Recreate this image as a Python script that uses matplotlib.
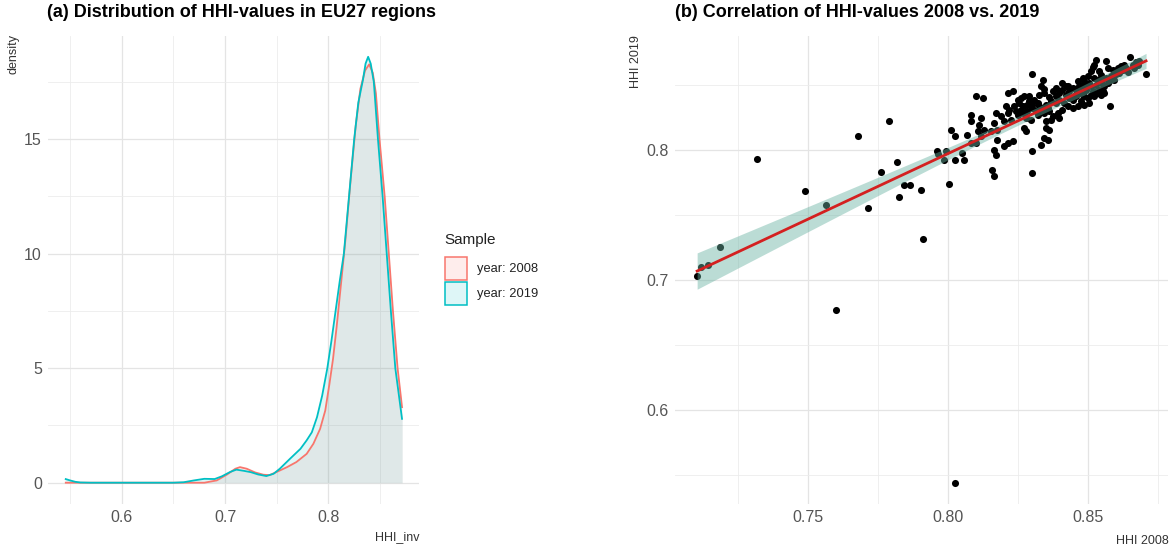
import numpy as np
import matplotlib
matplotlib.use("Agg")
import matplotlib.pyplot as plt
from matplotlib.patches import Rectangle
from matplotlib.colors import to_rgba

plt.rcParams['font.family'] = ['Liberation Sans', 'DejaVu Sans']

# ---------------- data ----------------
years = ['year: 2008', 'year: 2019']
year_colors = ['#F8766D', '#00BFC4']

dens_x_2008 = [0.545, 0.600, 0.650, 0.680, 0.692, 0.702, 0.710, 0.7145, 0.721, 0.729,
               0.737, 0.743, 0.750, 0.760, 0.769, 0.779, 0.7855, 0.792, 0.797, 0.801,
               0.8045, 0.808, 0.8125, 0.8165, 0.8215, 0.8265, 0.831, 0.8355, 0.8395, 0.843,
               0.846, 0.8495, 0.8545, 0.8585, 0.8625, 0.867, 0.8714]
dens_y_2008 = [0.0, 0.0, 0.0, 0.0, 0.1, 0.36, 0.61, 0.68, 0.61, 0.45,
               0.35, 0.33, 0.47, 0.68, 0.9, 1.26, 1.7, 2.35, 3.15, 4.3,
               5.4, 6.8, 8.8, 10.6, 13.2, 15.6, 17.2, 18.0, 18.27, 17.9,
               17.0, 15.0, 12.5, 10.0, 7.5, 5.0, 3.26]

dens_x_2019 = [0.545, 0.550, 0.555, 0.560, 0.570, 0.600, 0.650, 0.660, 0.670, 0.680,
               0.690, 0.697, 0.705, 0.711, 0.718, 0.725, 0.732, 0.740, 0.747, 0.753,
               0.763, 0.773, 0.779, 0.784, 0.789, 0.794, 0.799, 0.803, 0.807, 0.811,
               0.815, 0.820, 0.825, 0.829, 0.8335, 0.836, 0.8385, 0.841, 0.844, 0.848,
               0.8525, 0.8565, 0.8605, 0.8648, 0.8714]
dens_y_2019 = [0.17, 0.10, 0.04, 0.01, 0.0, 0.0, 0.0, 0.02, 0.10, 0.17,
               0.16, 0.28, 0.47, 0.57, 0.52, 0.46, 0.36, 0.29, 0.39, 0.61,
               1.05, 1.48, 1.85, 2.2, 2.86, 3.8, 5.0, 6.2, 7.5, 8.8,
               10.0, 12.5, 15.0, 16.6, 17.6, 18.3, 18.6, 18.3, 17.5, 15.0,
               12.5, 10.0, 7.5, 5.0, 2.75]

hhi_2008 = [
    0.7105, 0.7117, 0.7143, 0.7185, 0.7317, 0.7489, 0.7565, 0.7601, 0.7678, 0.7715,
    0.7762, 0.7788, 0.7819, 0.7825, 0.7843, 0.7864, 0.7902, 0.7912, 0.8023,
    0.7960, 0.7964, 0.7992, 0.7986, 0.8010, 0.8024, 0.8004, 0.8051, 0.8055, 0.8024,
    0.8067, 0.8081, 0.8101, 0.8126, 0.8081, 0.8083, 0.8117, 0.8105, 0.8117, 0.8099,
    0.8111, 0.8129,
    0.8301, 0.8337, 0.8331, 0.8343, 0.8408, 0.8426, 0.8462,
    0.8212, 0.8230, 0.8260, 0.8272, 0.8289, 0.8307, 0.8325, 0.8343, 0.8361,
    0.8206, 0.8218, 0.8236, 0.8254, 0.8266, 0.8283, 0.8301, 0.8319, 0.8331, 0.8349,
    0.8367, 0.8385, 0.8397, 0.8414, 0.8432, 0.8450, 0.8468,
    0.8170, 0.8188, 0.8212, 0.8224, 0.8248, 0.8266, 0.8277, 0.8295, 0.8319, 0.8343,
    0.8361, 0.8373, 0.8391, 0.8408, 0.8426, 0.8444, 0.8462,
    0.8164, 0.8200, 0.8349, 0.8367, 0.8397,
    0.8153, 0.8176, 0.8272, 0.8277, 0.8349, 0.8361,
    0.8176, 0.8212, 0.8230, 0.8343, 0.8355, 0.8331,
    0.8164, 0.8200, 0.8301, 0.8170, 0.8158, 0.8301, 0.8162,
    0.8527, 0.8521, 0.8516, 0.8563, 0.8647, 0.8706, 0.8635, 0.8658, 0.8670, 0.8682,
    0.8510, 0.8539, 0.8569, 0.8587, 0.8605, 0.8617, 0.8629,
    0.8498, 0.8521, 0.8545, 0.8563, 0.8581, 0.8599,
    0.8486, 0.8504, 0.8527, 0.8545, 0.8557, 0.8569,
    0.8474, 0.8492, 0.8516, 0.8539, 0.8557,
    0.8480, 0.8498, 0.8521, 0.8545,
    0.8474, 0.8486, 0.8504,
    0.8579,
    0.8373, 0.8385, 0.8397, 0.8408, 0.8420, 0.8432, 0.8444, 0.8456, 0.8420, 0.8385,
    0.8444, 0.8468, 0.8456,
    0.8492, 0.8510, 0.8533, 0.8551, 0.8575, 0.8593, 0.8611, 0.8593, 0.8623, 0.8480,
    0.8533, 0.8486, 0.8510, 0.8551, 0.8641, 0.8664, 0.8676,
    0.8242, 0.8260, 0.8283, 0.8301, 0.8313, 0.8325, 0.8337, 0.8355, 0.8289, 0.8248,
]
hhi_2019 = [
    0.7033, 0.7102, 0.7115, 0.7252, 0.7928, 0.7686, 0.7574, 0.6770, 0.8104, 0.7555,
    0.7828, 0.8225, 0.7903, 0.7636, 0.7731, 0.7731, 0.7687, 0.7311, 0.5440,
    0.7987, 0.7969, 0.7987, 0.7923, 0.8154, 0.8103, 0.7738, 0.7974, 0.7923, 0.7918,
    0.8115, 0.8051, 0.8415, 0.8397, 0.8269, 0.8218, 0.8244, 0.8141, 0.8103, 0.8051,
    0.8192, 0.8154,
    0.8585, 0.8533, 0.8487, 0.8467, 0.8513, 0.8492, 0.8526,
    0.8436, 0.8449, 0.8397, 0.8415, 0.8410, 0.8385, 0.8423, 0.8436, 0.8405,
    0.8333, 0.8308, 0.8338, 0.8359, 0.8333, 0.8346, 0.8321, 0.8359, 0.8308, 0.8346,
    0.8372, 0.8359, 0.8385, 0.8359, 0.8397, 0.8410, 0.8436,
    0.8282, 0.8256, 0.8282, 0.8231, 0.8269, 0.8282, 0.8244, 0.8231, 0.8269, 0.8282,
    0.8295, 0.8256, 0.8282, 0.8308, 0.8333, 0.8321, 0.8333,
    0.8205, 0.8218, 0.8218, 0.8231, 0.8244,
    0.8141, 0.8154, 0.8167, 0.8141, 0.8167, 0.8154,
    0.8077, 0.8051, 0.8064, 0.8090, 0.8077, 0.8038,
    0.8000, 0.8026, 0.7987, 0.7962, 0.7846, 0.7821, 0.7795,
    0.8692, 0.8654, 0.8633, 0.8685, 0.8715, 0.8582, 0.8628, 0.8654, 0.8674, 0.8685,
    0.8603, 0.8603, 0.8628, 0.8615, 0.8628, 0.8641, 0.8654,
    0.8564, 0.8551, 0.8577, 0.8551, 0.8564, 0.8582,
    0.8526, 0.8513, 0.8500, 0.8526, 0.8487, 0.8513,
    0.8487, 0.8462, 0.8449, 0.8462, 0.8436,
    0.8423, 0.8397, 0.8410, 0.8423,
    0.8372, 0.8346, 0.8359,
    0.8333,
    0.8449, 0.8474, 0.8436, 0.8462, 0.8423, 0.8449, 0.8474, 0.8462, 0.8487, 0.8410,
    0.8380, 0.8487, 0.8410,
    0.8500, 0.8487, 0.8538, 0.8500, 0.8526, 0.8538, 0.8590, 0.8603, 0.8615, 0.8551,
    0.8436, 0.8410, 0.8423, 0.8449, 0.8600, 0.8628, 0.8650,
    0.8295, 0.8308, 0.8295, 0.8346, 0.8295, 0.8333, 0.8321, 0.8321, 0.8372, 0.8385,
]

left_xticks = [0.6, 0.7, 0.8]
left_xticks_minor = [0.55, 0.65, 0.75, 0.85]
left_yticks = [0, 5, 10, 15]
left_yticks_minor = [2.5, 7.5, 12.5, 17.5]
right_xticks = [0.75, 0.80, 0.85]
right_xticklabels = ['0.75', '0.80', '0.85']
right_xticks_minor = [0.725, 0.775, 0.825, 0.875]
right_yticks = [0.6, 0.7, 0.8]
right_yticks_minor = [0.55, 0.65, 0.75, 0.85]

# ---------------- layout ----------------
W, H = 1173, 545
fig = plt.figure(figsize=(W / 100, H / 100), dpi=100)
fig.patch.set_facecolor('white')


def fx(px):
    return px / W


def fy(py):
    return 1 - py / H


top, bot = 35.5, 504
axL = fig.add_axes([fx(48), fy(bot), (419 - 48) / W, (bot - top) / H])
axR = fig.add_axes([fx(674.7), fy(bot), (1168.5 - 674.7) / W, (bot - top) / H])

tick_col = '#555555'
title_col = '#333333'


def style(ax):
    for s in ax.spines.values():
        s.set_visible(False)
    ax.set_axisbelow(True)
    ax.grid(which='major', color='#e4e4e4', lw=0.9)
    ax.grid(which='minor', color='#ececec', lw=0.6)
    ax.tick_params(which='both', length=0)
    ax.tick_params(axis='x', labelsize=11.5, labelcolor=tick_col, pad=4)
    ax.tick_params(axis='y', labelsize=11.5, labelcolor=tick_col, pad=4.5)


def expand(lo, hi, f=0.05):
    r = hi - lo
    return lo - f * r, hi + f * r


# ---------------- left: densities ----------------
style(axL)
dens = [(dens_x_2008, dens_y_2008), (dens_x_2019, dens_y_2019)]
for (xs, ys), col in zip(dens, year_colors):
    axL.fill_between(xs, 0, ys, color=col, alpha=0.12, lw=0, zorder=2)
    axL.plot(xs, ys, color=col, lw=1.3, zorder=3, solid_capstyle='butt')
allx = dens_x_2008 + dens_x_2019
ally = dens_y_2008 + dens_y_2019
axL.set_xlim(*expand(min(allx), max(allx)))
axL.set_ylim(*expand(0, max(ally)))
axL.set_xticks(left_xticks)
axL.set_xticklabels([f'{v:.1f}' for v in left_xticks])
axL.set_xticks(left_xticks_minor, minor=True)
axL.set_yticks(left_yticks)
axL.set_yticklabels([str(v) for v in left_yticks])
axL.set_yticks(left_yticks_minor, minor=True)

# ---------------- right: scatter + lm ----------------
style(axR)
x = np.array(hhi_2008)
y = np.array(hhi_2019)
axR.scatter(x, y, s=26, color='black', linewidths=0, zorder=2)
b, a = np.polyfit(x, y, 1)
n = len(x)
xs = np.linspace(x.min(), x.max(), 80)
yhat = a + b * xs
resid = y - (a + b * x)
sig = np.sqrt(np.sum(resid ** 2) / (n - 2))
se = sig * np.sqrt(1 / n + (xs - x.mean()) ** 2 / np.sum((x - x.mean()) ** 2))
tq = 1.972
axR.fill_between(xs, yhat - tq * se, yhat + tq * se, color='#69b3a2', alpha=0.45, lw=0, zorder=3)
axR.plot(xs, yhat, color='#d42020', lw=2.0, zorder=4)
axR.set_xlim(*expand(x.min(), x.max()))
axR.set_ylim(*expand(y.min(), y.max()))
axR.set_xticks(right_xticks)
axR.set_xticklabels(right_xticklabels)
axR.set_xticks(right_xticks_minor, minor=True)
axR.set_yticks(right_yticks)
axR.set_yticklabels([f'{v:.1f}' for v in right_yticks])
axR.set_yticks(right_yticks_minor, minor=True)

# ---------------- titles / labels ----------------
fig.text(fx(47), fy(17), '(a) Distribution of HHI-values in EU27 regions',
         fontsize=13, fontweight='bold', ha='left', va='baseline', color='black')
fig.text(fx(674.7), fy(17), '(b) Correlation of HHI-values 2008 vs. 2019',
         fontsize=13, fontweight='bold', ha='left', va='baseline', color='black')

fig.text(fx(14), fy(34), 'density', rotation=90, ha='center', va='top',
         fontsize=9, color=title_col)
fig.text(fx(419), fy(540), 'HHI_inv', ha='right', va='baseline',
         fontsize=9, color=title_col)
fig.text(fx(636), fy(35), 'HHI 2019', rotation=90, ha='center', va='top',
         fontsize=9, color=title_col)
fig.text(fx(1168.5), fy(543.5), 'HHI 2008', ha='right', va='baseline',
         fontsize=9, color=title_col)

# ---------------- legend ----------------
fig.text(fx(444), fy(240), 'Sample', fontsize=11, ha='left', va='center', color='#222222')
for i, (lab, col) in enumerate(zip(years, year_colors)):
    y0 = 257 + i * 24.7
    rect = Rectangle((fx(444.5), fy(y0 + 23)), 22.5 / W, 23 / H, transform=fig.transFigure,
                     facecolor=to_rgba(col, 0.13), edgecolor=col, lw=1.1)
    fig.add_artist(rect)
    fig.text(fx(477), fy(y0 + 12), lab, fontsize=9.3, ha='left', va='center', color='#222222')

fig.savefig('out.png', dpi=100, facecolor='white')
